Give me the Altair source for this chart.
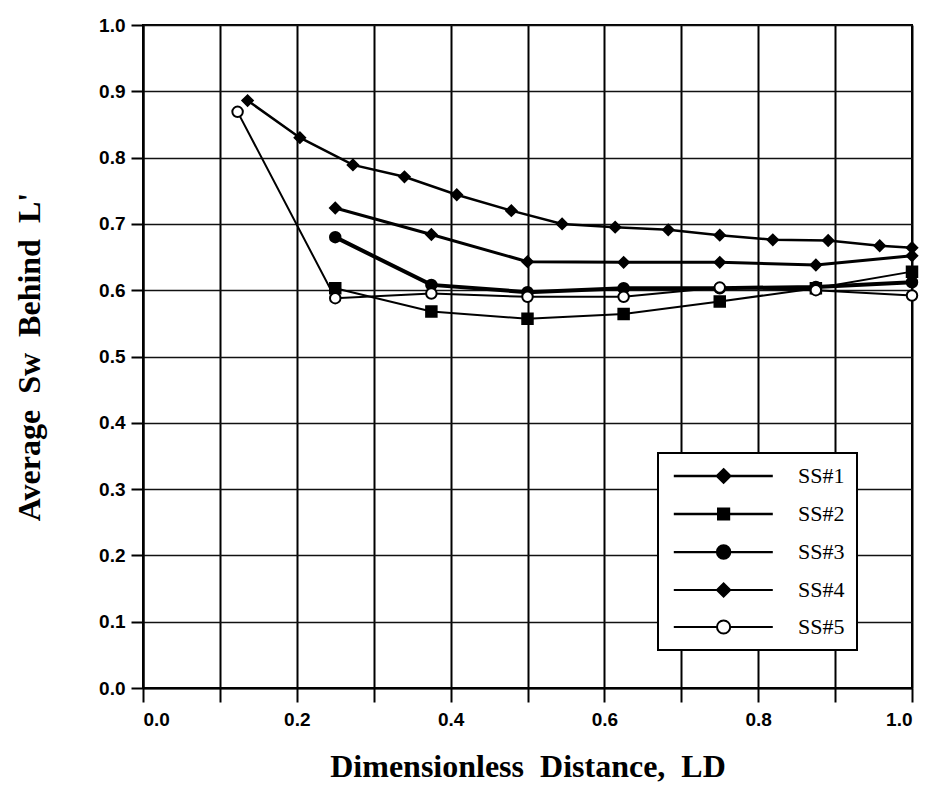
import altair as alt
import pandas as pd

series = ["SS#1", "SS#2", "SS#3", "SS#4", "SS#5"]

ss1_x = [0.136, 0.204, 0.273, 0.340, 0.408, 0.479, 0.545, 0.614, 0.683, 0.750, 0.819, 0.891, 0.958, 1.0]
ss1_y = [0.886, 0.830, 0.789, 0.771, 0.744, 0.720, 0.700, 0.695, 0.691, 0.683, 0.676, 0.675, 0.667, 0.664]

ss2_x = [0.25, 0.375, 0.5, 0.625, 0.75, 0.875, 1.0]
ss2_y = [0.603, 0.568, 0.557, 0.564, 0.583, 0.603, 0.628]

ss3_x = [0.25, 0.375, 0.5, 0.625, 0.75, 0.875, 1.0]
ss3_y = [0.680, 0.608, 0.597, 0.603, 0.603, 0.605, 0.612]

ss4_x = [0.25, 0.375, 0.5, 0.625, 0.75, 0.875, 1.0]
ss4_y = [0.724, 0.684, 0.643, 0.642, 0.642, 0.638, 0.652]

ss5_x = [0.123, 0.25, 0.375, 0.5, 0.625, 0.75, 0.875, 1.0]
ss5_y = [0.869, 0.588, 0.595, 0.590, 0.590, 0.604, 0.600, 0.592]

x_ticks = [round(i * 0.1, 2) for i in range(11)]
y_ticks = [round(i * 0.05, 2) for i in range(21)]

shapes = ["diamond", "square", "circle", "diamond", "circle"]
fills = ["black", "black", "black", "black", "white"]
widths = [2.5, 2, 4, 3, 2]

# legend symbols: a line with the marker in its middle
def leg_path(marker):
    return "M-1.2,0 L6.0,0 M8.2,0 L15.3,0 " + marker

diamond_p = "M7.1,-1.1 L8.2,0 L7.1,1.1 L6.0,0 Z"
square_p = "M6.2,-0.9 L8.0,-0.9 L8.0,0.9 L6.2,0.9 Z"
circle_p = "M6.0,0 A1.1,1.1 0 1,0 8.2,0 A1.1,1.1 0 1,0 6.0,0 Z"
leg_paths = [leg_path(diamond_p), leg_path(square_p), leg_path(circle_p),
             leg_path(diamond_p), leg_path(circle_p)]

rows = []
for name, xs, ys in [("SS#1", ss1_x, ss1_y), ("SS#2", ss2_x, ss2_y),
                     ("SS#3", ss3_x, ss3_y), ("SS#4", ss4_x, ss4_y),
                     ("SS#5", ss5_x, ss5_y)]:
    for i, (xv, yv) in enumerate(zip(xs, ys)):
        rows.append({"series": name, "x": xv, "y": yv, "order": i})
df = pd.DataFrame(rows)

x_enc = alt.X(
    "x:Q",
    scale=alt.Scale(domain=[0, 1], nice=False, zero=False),
    axis=alt.Axis(
        values=x_ticks,
        labelExpr="round(datum.value*10) % 2 == 0 ? format(datum.value, '.1f') : ''",
        tickSize=14, tickWidth=2, tickColor="black",
        labelPadding=8, titlePadding=22,
        grid=True, gridColor="black", gridWidth=2,
    ),
    title="Dimensionless\u00a0\u00a0Distance,\u00a0\u00a0LD",
)
y_enc = alt.Y(
    "y:Q",
    scale=alt.Scale(domain=[0, 1], nice=False, zero=False),
    axis=alt.Axis(
        values=y_ticks,
        labelExpr="round(datum.value*20) % 2 == 0 ? format(datum.value, '.1f') : ''",
        tickSize={"condition": {"test": "round(datum.value*20) % 2 == 0", "value": 12}, "value": 7},
        tickWidth=2, tickColor="black",
        labelPadding=6, titlePadding=52,
        grid=True, gridColor="#111111", gridWidth=1.6,
    ),
    title="Average\u00a0\u00a0Sw\u00a0\u00a0Behind\u00a0\u00a0L'",
)

base = alt.Chart(df)
layers = []
for k, name in enumerate(series):
    sub = base.transform_filter(alt.datum.series == name)
    if k == 0:
        enc = dict(x=x_enc, y=y_enc)
    else:
        enc = dict(x="x:Q", y="y:Q")
    layers.append(sub.mark_line(color="black", strokeWidth=widths[k]).encode(order="order:Q", **enc))
for k, name in enumerate(series):
    sub = base.transform_filter(alt.datum.series == name)
    layers.append(sub.mark_point(shape=shapes[k], fill=fills[k], stroke="black", strokeWidth=2,
                                 opacity=1, size=110).encode(x="x:Q", y="y:Q"))

legend_layer = base.transform_filter("false").mark_point(
    opacity=1, size=144
).encode(
    x="x:Q", y="y:Q",
    shape=alt.Shape("series:N", scale=alt.Scale(domain=series, range=leg_paths),
                    legend=alt.Legend(
                        title=None, orient="none", legendX=515, legendY=428,
                        fillColor="white", strokeColor="black",
                        padding=12, rowPadding=15, labelOffset=106,
                        symbolSize=144, symbolStrokeColor="black",
                        labelFont="Liberation Serif", labelFontSize=22,
                        labelColor="black", labelLimit=200,
                    )),
    fill=alt.Fill("series:N", scale=alt.Scale(domain=series, range=fills), legend=None),
    stroke=alt.Stroke("series:N", scale=alt.Scale(domain=series, range=["black"] * 5), legend=None),
    strokeWidth=alt.StrokeWidth("series:N", scale=alt.Scale(domain=series, range=widths), legend=None),
)
layers.append(legend_layer)

chart = alt.layer(*layers).properties(
    width=769, height=663,
    padding={"left": 143, "top": 25, "right": 15, "bottom": 100},
    autosize="none",
    background="white",
).configure_view(
    stroke="black", strokeWidth=2
).configure_axis(
    domainColor="black", domainWidth=2,
    labelFont="Liberation Sans", labelFontSize=19, labelFontWeight="bold", labelColor="black",
    titleFont="Liberation Serif", titleFontSize=32, titleFontWeight="bold", titleColor="black",
).configure_legend(
    strokeWidth=2
)

chart.save("out.html", embed_options={"renderer": "svg", "actions": False})
